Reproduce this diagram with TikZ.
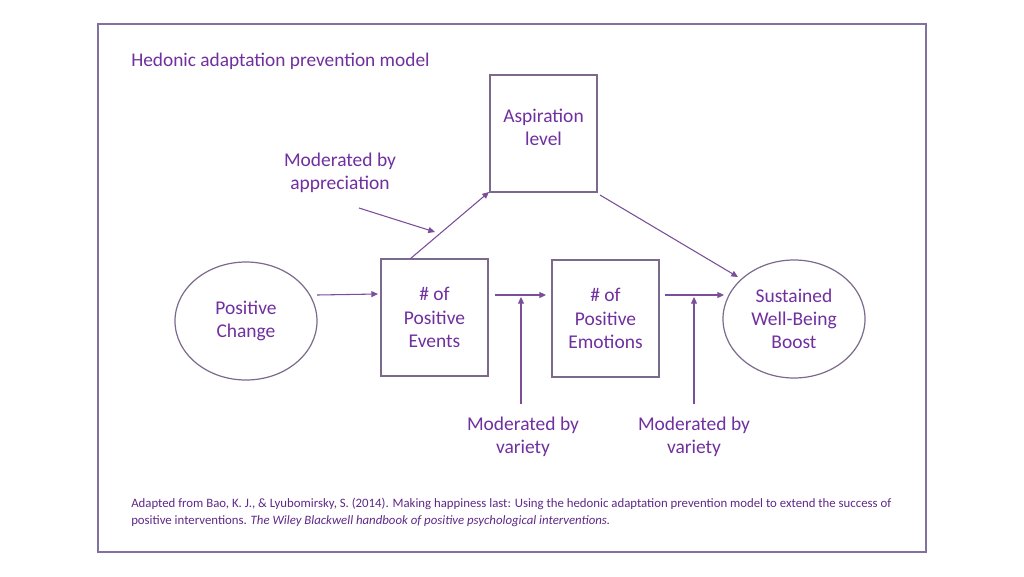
\documentclass[tikz,border=0pt]{standalone}
\usepackage{fontspec}
\setmainfont{Carlito}
\usetikzlibrary{arrows.meta,shapes.geometric}
\definecolor{txt}{HTML}{7030A0}
\definecolor{edge}{HTML}{7B6A8C}
\definecolor{frm}{HTML}{8270A0}
\definecolor{arr}{HTML}{7A4E9A}
\tikzset{
  lbl/.style={text=txt, align=center, font=\fontsize{14.6}{17.4}\selectfont, inner sep=0pt},
  boxn/.style={draw=edge, line width=0.9pt, minimum width=107*0.75pt, minimum height=117*0.75pt, align=center, text=txt, font=\fontsize{14.6}{17.4}\selectfont, inner sep=0pt},
  ell/.style={draw=edge, line width=0.9pt, ellipse, minimum width=142*0.75pt, minimum height=118*0.75pt, align=center, text=txt, font=\fontsize{14.6}{17.4}\selectfont, inner sep=0pt},
  arw/.style={draw=arr, line width=0.8pt, -{Triangle[length=5pt,width=4.5pt]}}
}
\begin{document}
\begin{tikzpicture}[x=0.75pt,y=-0.75pt]
\useasboundingbox (0,0) rectangle (1024,576);
\fill[white] (0,0) rectangle (1024,576);
\draw[frm, line width=0.9pt] (98,24) rectangle (926,552);
\node[anchor=west, text=txt, font=\fontsize{14.5}{17}\selectfont, inner sep=0pt] (title) at (131,61) {Hedonic adaptation prevention model};

\node[ell] (pc) at (246,321) {Positive\\Change};
\node[boxn] (ev) at (434.5,317.5) {\# of\\Positive\\Events};
\node[boxn] (asp) at (543.5,133.5) {};
\node[lbl] (asptxt) at (543.5,127.5) {Aspiration\\level};
\node[boxn] (em) at (605.5,318.5) {\# of\\Positive\\Emotions};
\node[ell] (sb) at (794,319) {Sustained\\Well-Being\\Boost};

\node[lbl] (mapp) at (340,173) {Moderated by\\appreciation};
\node[lbl] (mv1) at (523,437) {Moderated by\\variety};
\node[lbl] (mv2) at (694,437) {Moderated by\\variety};

\coordinate (a1s) at (317,295); \coordinate (a1e) at (378,294);
\coordinate (a2s) at (495,295); \coordinate (a2e) at (546,295);
\coordinate (a3s) at (665,295); \coordinate (a3e) at (724,295);
\coordinate (a4s) at (410,259); \coordinate (a4e) at (489,192);
\coordinate (a5s) at (600,195); \coordinate (a5e) at (738,277);
\coordinate (a6s) at (359,208); \coordinate (a6e) at (435,232);
\coordinate (a7s) at (521,404); \coordinate (a7e) at (521,297);
\coordinate (a8s) at (694,404); \coordinate (a8e) at (694,297);

\draw[arw] (a1s) -- (a1e);
\draw[arw] (a2s) -- (a2e);
\draw[arw] (a3s) -- (a3e);
\draw[arw] (a4s) -- (a4e);
\draw[arw] (a5s) -- (a5e);
\draw[arw] (a6s) -- (a6e);
\draw[arw] (a7s) -- (a7e);
\draw[arw] (a8s) -- (a8e);

\node[anchor=north west, text=txt!85!black, align=left, font=\fontsize{9.6}{12.9}\selectfont, inner sep=0pt] (foot) at (131,498) {Adapted from Bao, K. J., \& Lyubomirsky, S. (2014). Making happiness last: Using the hedonic adaptation prevention model to extend the success of\\positive interventions. \textit{The Wiley Blackwell handbook of positive psychological interventions.}};
\end{tikzpicture}
\end{document}
